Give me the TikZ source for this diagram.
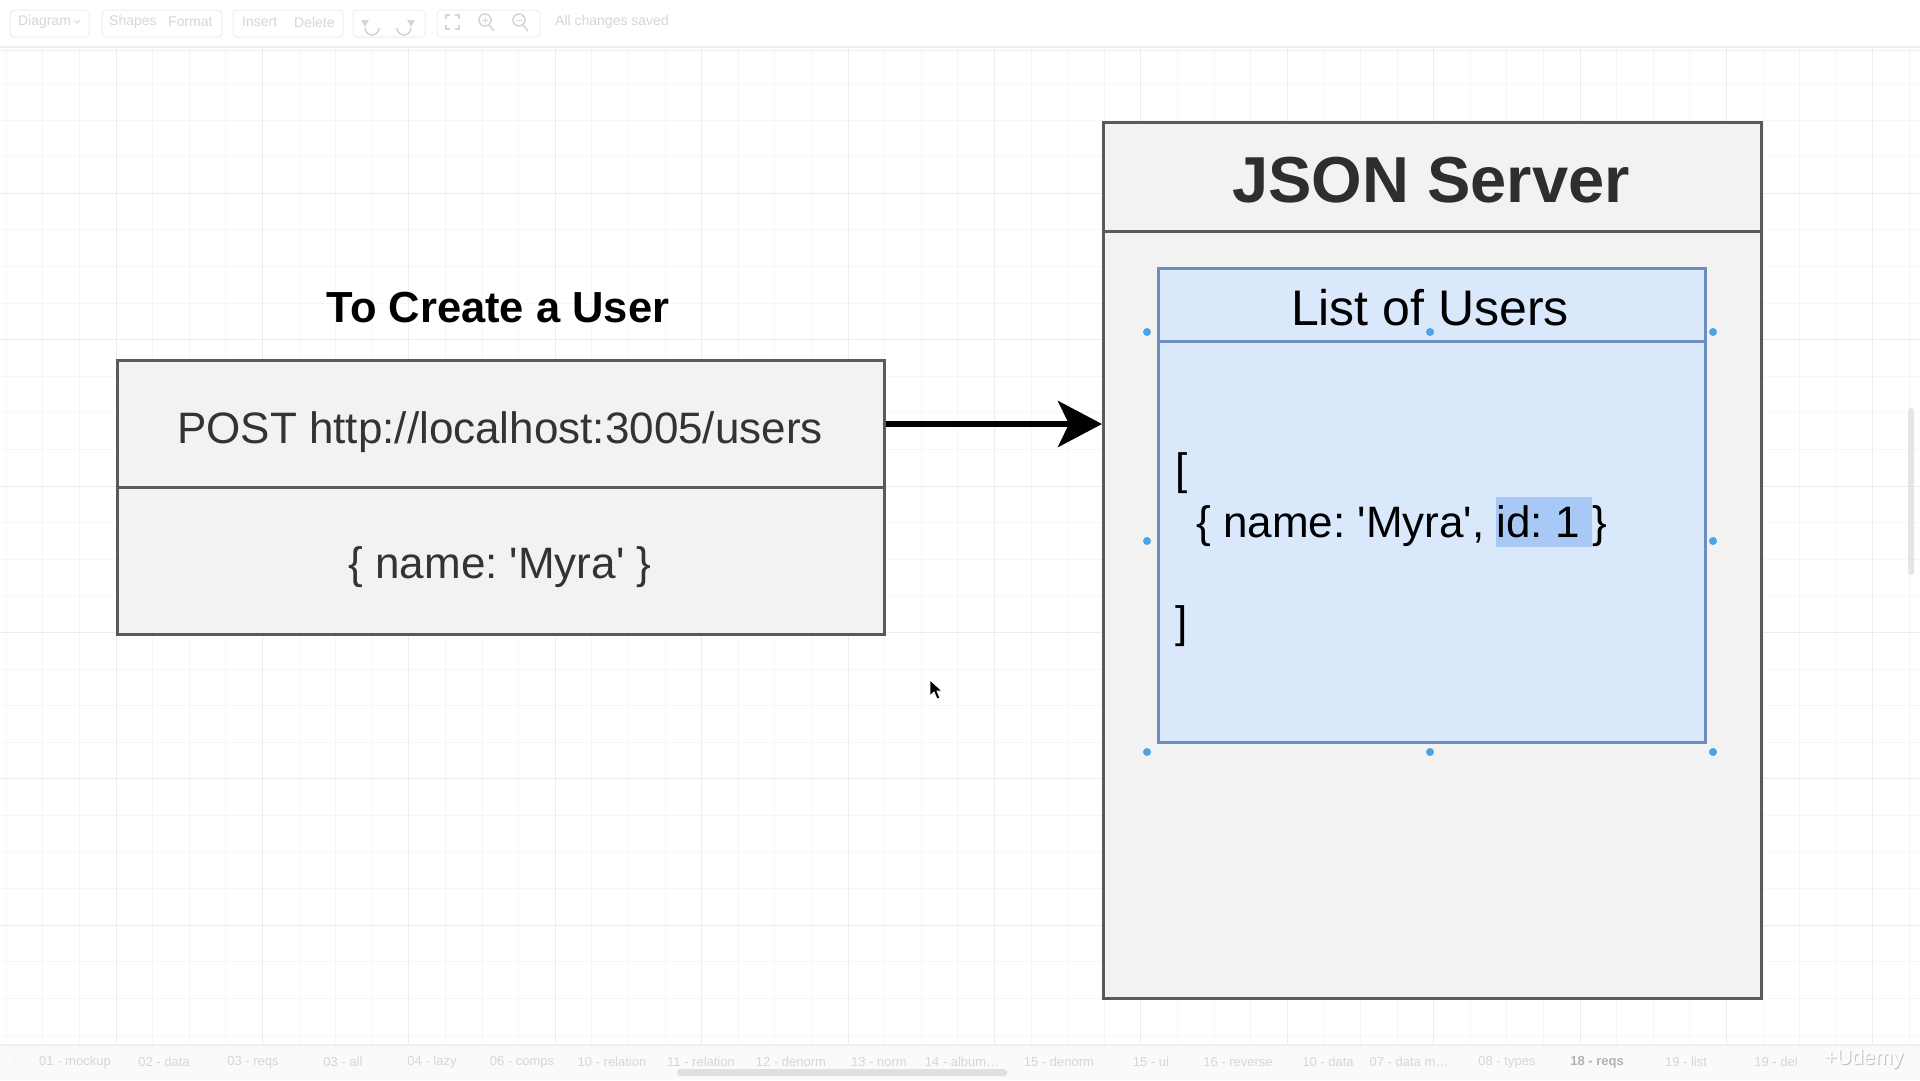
\documentclass[tikz,border=0pt]{standalone}
\usepackage{fontspec}
\setmainfont{Liberation Sans}
\usetikzlibrary{arrows.meta}
\definecolor{boxfill}{HTML}{F2F2F2}
\definecolor{boxline}{HTML}{5A5A5A}
\definecolor{bluefill}{HTML}{DAE8FC}
\definecolor{blueline}{HTML}{6C8EBF}
\definecolor{hl}{HTML}{A8C8F6}
\definecolor{handle}{HTML}{4BA3E3}
\definecolor{gridminor}{HTML}{F6F6F6}
\definecolor{gridmajor}{HTML}{ECECEC}
\definecolor{uitext}{HTML}{D6D6D6}
\definecolor{uiline}{HTML}{EEEEEE}
\definecolor{txt}{HTML}{333333}
\newcommand{\sq}{\textquotesingle}
\tikzset{
  graybox/.style={draw=boxline, fill=boxfill, line width=3pt, inner sep=0pt, anchor=north west},
  bluebox/.style={draw=blueline, fill=bluefill, line width=2.5pt, inner sep=0pt, anchor=north west},
  boxtext/.style={inner sep=0pt, anchor=base, text=txt, font=\fontsize{44}{52}\selectfont},
  bodytext/.style={inner sep=0pt, anchor=base west, text=black, font=\fontsize{44}{52}\selectfont},
  handledot/.style={circle, fill=handle, inner sep=0pt, minimum size=8pt},
  uilabel/.style={inner sep=0pt, text=uitext, font=\fontsize{14}{16}\selectfont},
  tablabel/.style={inner sep=0pt, text=uitext, font=\fontsize{13}{15}\selectfont},
  uigroup/.style={draw=uiline, line width=1pt, rounded corners=4pt},
  uiicon/.style={draw=uitext, line width=1.6pt},
  flowarrow/.style={draw=black, line width=6pt, -{Stealth[length=44pt, width=46pt, inset=11pt]}},
}
\begin{document}
\frenchspacing
\begin{tikzpicture}[x=1pt,y=-1pt]
\useasboundingbox (0,0) rectangle (1920,1080);
\fill[white] (0,0) rectangle (1920,1080);
% grid
\foreach \i in {0,1,...,52} {
  \pgfmathsetmacro{\gx}{6.2+36.6*\i}
  \draw[gridminor, line width=1pt] (\gx,48) -- (\gx,1045);
}
\foreach \i in {0,1,...,27} {
  \pgfmathsetmacro{\gy}{46.8+36.6*\i}
  \draw[gridminor, line width=1pt] (0,\gy) -- (1920,\gy);
}
\foreach \i in {0,1,...,13} {
  \pgfmathsetmacro{\gx}{116+146.4*\i}
  \draw[gridmajor, line width=1pt] (\gx,48) -- (\gx,1045);
}
\foreach \i in {0,1,...,6} {
  \pgfmathsetmacro{\gy}{46.8+146.4*\i}
  \draw[gridmajor, line width=1pt] (0,\gy) -- (1920,\gy);
}
% toolbar
\fill[white] (0,0) rectangle (1920,46);
\draw[uiline, line width=1.2pt] (0,47) -- (1920,47);
\draw[uiline, line width=1pt] (0,50) -- (1920,50);
\draw[uigroup] (10,10) rectangle (89,37);
\draw[uigroup] (102,10) rectangle (222,37);
\draw[uigroup] (233,10) rectangle (343,37);
\draw[uigroup] (353,10) rectangle (425,37);
\draw[uigroup] (437,10) rectangle (540,37);
\node[uilabel, anchor=west] (tbdiagram) at (18,22) {Diagram};
\draw[uiicon, line width=1pt] (74,20) -- (77,23) -- (80,20);
\node[uilabel, anchor=west] (tbshapes) at (109,22) {Shapes};
\node[uilabel, anchor=west] (tbformat) at (168,22) {Format};
\node[uilabel, anchor=west] (tbinsert) at (242,22) {Insert};
\node[uilabel, anchor=west] (tbdelete) at (294,22) {Delete};
\draw[uiicon] (379,28) arc (0:180:7);
\fill[uitext] (361,20) -- (369,20) -- (365,27) -- cycle;
\draw[uiicon] (397,28) arc (180:0:7);
\fill[uitext] (407,20) -- (415,20) -- (411,27) -- cycle;
\draw[uiicon] (446,19) -- (446,15) -- (450,15) (455,15) -- (459,15) -- (459,19) (459,25) -- (459,29) -- (455,29) (450,29) -- (446,29) -- (446,25);
\draw[uiicon] (485,20) circle (6);
\draw[uiicon] (489,25) -- (494,31);
\draw[uiicon, line width=1pt] (482,20) -- (488,20) (485,17) -- (485,23);
\draw[uiicon] (519,20) circle (6);
\draw[uiicon] (523,25) -- (528,31);
\draw[uiicon, line width=1pt] (516,20) -- (522,20);
\node[uilabel, anchor=west] (tbsaved) at (555,22) {All changes saved};
% bottom tab bar
\fill[white!98!black] (0,1045) rectangle (1920,1080);
\draw[uiline, line width=1.2pt] (0,1045) -- (1920,1045);
\foreach \tx/\tl in {75/{01 - mockup}, 164/{02 - data}, 253/{03 - reqs}, 343/{03 - all}, 432/{04 - lazy}, 522/{06 - comps}, 612/{10 - relation}, 701/{11 - relation}, 791/{12 - denorm}, 879/{13 - norm}, 962/{14 - album\ldots}, 1059/{15 - denorm}, 1151/{15 - ui}, 1238/{16 - reverse}, 1328/{10 - data}, 1409/{07 - data m\ldots}, 1507/{08 - types}, 1686/{19 - list}, 1776/{19 - del}} {
  \node[tablabel] at (\tx,1062) {\tl};
}
\node[tablabel, text=black!30, font=\bfseries\fontsize{13}{15}\selectfont] (curtab) at (1597,1062) {18 - reqs};
\fill[black!5] (14,1054) circle (1.2) (14,1059) circle (1.2) (14,1064) circle (1.2);
\fill[black!12, rounded corners=3pt] (677,1069) rectangle (1007,1076);
\fill[black!10, rounded corners=3pt] (1908,408) rectangle (1914,575);
\node[inner sep=0pt, text=black!25, font=\fontsize{21}{24}\selectfont] (udemyshadow) at (1865,1060) {+Udemy};
\node[inner sep=0pt, text=white, font=\fontsize{21}{24}\selectfont] (udemy) at (1864,1059) {+Udemy};
% left: request
\node[inner sep=0pt, anchor=base, text=black, font=\bfseries\fontsize{43.5}{50}\selectfont] (reqtitle) at (498,322) {To Create a User};
\node[graybox, minimum width=767pt, minimum height=127pt] (reqhead) at (116,359) {};
\node[graybox, minimum width=767pt, minimum height=147pt] (reqbody) at (116,486) {};
\node[boxtext] (reqline) at (500,443) {POST http://localhost:3005/users};
\node[boxtext] (reqdata) at (500,578) {\{ name: \sq Myra\sq\ \}};
% right: server
\node[graybox, minimum width=658pt, minimum height=109pt] (serverhead) at (1102,121) {};
\node[graybox, minimum width=658pt, minimum height=767pt] (serverbody) at (1102,230) {};
\node[boxtext, text=black!82, font=\bfseries\fontsize{65}{72}\selectfont] (servertitle) at (1431,202) {JSON Server};
\node[bluebox, minimum width=547pt, minimum height=73pt] (listhead) at (1157,267) {};
\node[bluebox, minimum width=547pt, minimum height=401pt] (listbody) at (1157,340) {};
\node[boxtext, text=black, font=\fontsize{50}{58}\selectfont] (listtitle) at (1430,325) {List of Users};
\fill[hl] (1496,497) rectangle (1592,547);
\node[bodytext] (openbr) at (1175,484) {[};
\node[bodytext] (userrow) at (1196,537) {\{ name: \sq Myra\sq , id: 1 \}};
\node[bodytext] (closebr) at (1175,637) {]};
% selection handles
\foreach \hx/\hy [count=\k] in {1147/332, 1430/332, 1713/332, 1147/541, 1713/541, 1147/752, 1430/752, 1713/752} {
  \node[handledot] (h\k) at (\hx,\hy) {};
}
% connector
\draw[flowarrow] (reqhead.east) -- (reqhead.east -| serverhead.west);
% mouse pointer
\filldraw[fill=black, draw=white, line width=0.8pt] (930,680) -- (930,696) -- (934,692) -- (937,699) -- (940,698) -- (937,691) -- (942,691) -- cycle;
\end{tikzpicture}
\end{document}
